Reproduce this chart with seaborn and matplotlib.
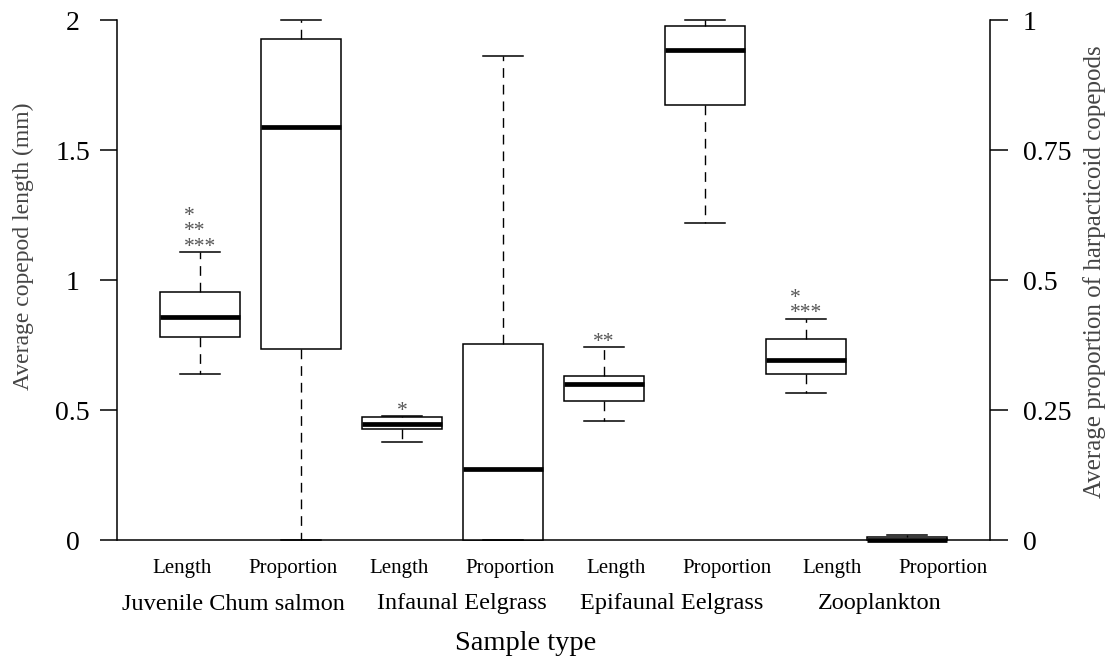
import numpy as np
import pandas as pd
import matplotlib
matplotlib.use("Agg")
import matplotlib.pyplot as plt
import seaborn as sns

# ---------------- data ----------------
groups = ["Juvenile Chum salmon", "Infaunal Eelgrass", "Epifaunal Eelgrass", "Zooplankton"]
measures = ["Length", "Proportion"]

# five-number summaries (min, Q1, median, Q3, max)
length_juvenile = [0.640, 0.780, 0.858, 0.952, 1.106]
length_infaunal = [0.377, 0.428, 0.448, 0.472, 0.476]
length_epifaunal = [0.458, 0.534, 0.599, 0.630, 0.741]
length_zooplankton = [0.567, 0.637, 0.691, 0.774, 0.850]

prop_juvenile = [0.000, 0.368, 0.795, 0.963, 1.000]
prop_infaunal = [0.000, 0.000, 0.136, 0.376, 0.930]
prop_epifaunal = [0.610, 0.837, 0.943, 0.988, 1.000]
prop_zooplankton = [0.000, 0.000, 0.000, 0.006, 0.010]

# significance stars above the length boxes (top row first)
sig_juvenile = ["*", "**", "***"]
sig_infaunal = ["*"]
sig_epifaunal = ["**"]
sig_zooplankton = ["*", "***"]

length_ticks = [0, 0.5, 1, 1.5, 2]
length_ticklabels = ["0", "0.5", "1", "1.5", "2"]
prop_ticks = [0, 0.25, 0.5, 0.75, 1]
prop_ticklabels = ["0", "0.25", "0.5", "0.75", "1"]

ylabel_left = "Average copepod length (mm)"
ylabel_right = "Average proportion of harpacticoid copepods"
xlabel = "Sample type"

# ---------------- build tables ----------------
length_sets = [length_juvenile, length_infaunal, length_epifaunal, length_zooplankton]
prop_sets = [prop_juvenile, prop_infaunal, prop_epifaunal, prop_zooplankton]
sig_sets = [sig_juvenile, sig_infaunal, sig_epifaunal, sig_zooplankton]

order = [f"{g} {m}" for g in groups for m in measures]
len_rows, prop_rows = [], []
for g, lv, pv in zip(groups, length_sets, prop_sets):
    for v in lv:
        len_rows.append({"cat": f"{g} Length", "value": v})
    for v in pv:
        prop_rows.append({"cat": f"{g} Proportion", "value": v})
df_len = pd.DataFrame(len_rows)
df_prop = pd.DataFrame(prop_rows)

# ---------------- style ----------------
plt.rcParams["font.family"] = ["Liberation Serif", "DejaVu Serif"]
plt.rcParams["axes.linewidth"] = 1.1

W, H = 1112, 661
fig = plt.figure(figsize=(W / 100, H / 100), dpi=100)
ax = fig.add_axes([117 / W, 1.0012 - 561.6 / H, 873 / W, 561.6 / H])
ax2 = ax.twinx()

box_kws = dict(
    x="cat", y="value", order=order, whis=(0, 100), width=0.8,
    color="white", linecolor="black", linewidth=1.1, fliersize=0,
    medianprops=dict(linewidth=3.4, color="black", solid_capstyle="butt"),
    whiskerprops=dict(linestyle=(0, (7, 5)), linewidth=1.0),
    capprops=dict(linewidth=1.1),
)
sns.boxplot(data=df_len, ax=ax, **box_kws)
sns.boxplot(data=df_prop, ax=ax2, **box_kws)

ax.axhline(0, color="black", linewidth=1.1, zorder=0.5)

for a in (ax, ax2):
    a.set_xlim(-0.822, 7.822)
    a.set_xticks([])
    a.set_xlabel("")
    a.set_ylabel("")
    a.spines["top"].set_visible(False)
    a.spines["bottom"].set_visible(False)

ax.set_ylim(-0.08, 2.08)
ax2.set_ylim(-0.04, 1.04)
ax.spines["right"].set_visible(False)
ax2.spines["left"].set_visible(False)
ax.spines["left"].set_bounds(0, 2)
ax2.spines["right"].set_bounds(0, 1)

ax.set_yticks(length_ticks)
ax.set_yticklabels(length_ticklabels, fontsize=20)
ax.tick_params(axis="y", length=12.5, width=1.1, pad=19.5)
for t in ax.get_yticklabels():
    t.set_horizontalalignment("center")

ax2.set_yticks(prop_ticks)
ax2.set_yticklabels(prop_ticklabels, fontsize=20)
ax2.tick_params(axis="y", length=13, width=1.1, pad=10.5)

# significance stars (one multi-line text per box, rows left-aligned)
fs_star = 15.5
for i, (vals, rows) in enumerate(zip(length_sets, sig_sets)):
    x = 2 * i
    top = max(vals)
    ax.annotate("\n".join(rows), xy=(x, top), xytext=(0, -3.2),
                textcoords="offset points", ha="center", va="bottom",
                multialignment="left", linespacing=0.75,
                fontsize=fs_star, color="#555555")

# x labels (figure pixel positions)
sub_x = [182, 293, 399, 510, 616, 727, 832, 943]
for i, px in enumerate(sub_x):
    fig.text(px / W, 1 - 568 / H, measures[i % 2], ha="center", va="center", fontsize=15)
grp_x = [233, 462, 672, 880]
for g, px in zip(groups, grp_x):
    fig.text(px / W, 1 - 604 / H, g, ha="center", va="center", fontsize=17.5)
fig.text(526 / W, 1 - 644 / H, xlabel, ha="center", va="center", fontsize=20.5)

fig.text(23 / W, 1 - 246 / H, ylabel_left, rotation=90, ha="center", va="center",
         fontsize=17, color="#444444")
fig.text(1095 / W, 1 - 272 / H, ylabel_right, rotation=90, ha="center", va="center",
         fontsize=18, color="#444444")

fig.savefig("out.png", dpi=100)
